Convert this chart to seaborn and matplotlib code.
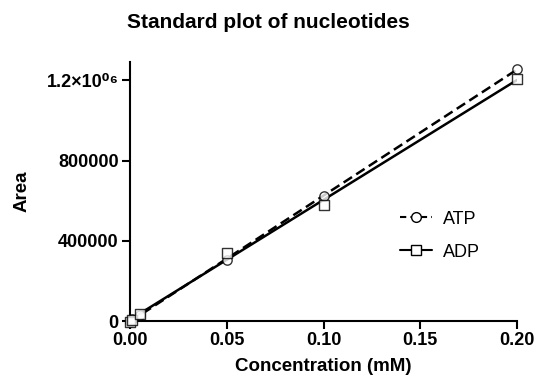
import numpy as np
import pandas as pd
import seaborn as sns
import matplotlib.pyplot as plt
from matplotlib.lines import Line2D

conc = [0.0, 0.001, 0.005, 0.05, 0.1, 0.2]
atp_area = [-4000, 9000, 30000, 305000, 625000, 1255000]
adp_area = [-2000, 8000, 38000, 340000, 580000, 1205000]

sns.set_style('ticks')
plt.rcParams['font.family'] = ['Liberation Sans', 'DejaVu Sans']
plt.rcParams['font.weight'] = 'bold'
plt.rcParams['text.color'] = 'black'
plt.rcParams['axes.labelcolor'] = 'black'
plt.rcParams['xtick.color'] = 'black'
plt.rcParams['ytick.color'] = 'black'

fig = plt.figure(figsize=(5.37, 3.81), dpi=100)
ax = fig.add_axes([0.242, 0.157, 0.721, 0.68])

sns.regplot(x=conc, y=atp_area, ax=ax, ci=None, truncate=True,
            marker='o', color='black',
            scatter_kws=dict(s=45, facecolors='white', edgecolors='black', linewidths=1, clip_on=False, zorder=3),
            line_kws=dict(linestyle=(0, (4, 2)), linewidth=1.8))
sns.regplot(x=conc, y=adp_area, ax=ax, ci=None, truncate=True,
            marker='s', color='black',
            scatter_kws=dict(s=45, facecolors='white', edgecolors='black', linewidths=1, clip_on=False, zorder=3),
            line_kws=dict(linestyle='-', linewidth=1.8))

ax.set_xlim(0, 0.2)
ax.set_ylim(0, 1290000)
ax.set_xticks([0.0, 0.05, 0.10, 0.15, 0.20])
ax.set_xticklabels(['0.00', '0.05', '0.10', '0.15', '0.20'])
ax.set_yticks([0, 400000, 800000, 1200000])
ax.set_yticklabels(['0', '400000', '800000', '1.2×10⁰⁶'])
ax.tick_params(labelsize=13, width=1.5, length=6, color='black', labelcolor='black', pad=2)
for lbl in ax.get_xticklabels() + ax.get_yticklabels():
    lbl.set_fontweight('bold')
for s in ['left', 'bottom']:
    ax.spines[s].set_linewidth(1.5)
    ax.spines[s].set_color('black')
sns.despine(ax=ax)

ax.set_xlabel('Concentration (mM)', fontsize=13.5, fontweight='bold', labelpad=6, color='black')
ax.set_ylabel('Area', fontsize=13.5, fontweight='bold', labelpad=12, color='black')
fig.suptitle('Standard plot of nucleotides', fontsize=15, fontweight='bold', y=0.965, color='black')

handles = [
    Line2D([], [], color='black', linestyle=(0, (3, 2)), marker='o', markerfacecolor='white', markersize=7),
    Line2D([], [], color='black', linestyle='-', marker='s', markerfacecolor='white', markersize=7),
]
leg = ax.legend(handles, ['ATP', 'ADP'], loc='center left', bbox_to_anchor=(0.655, 0.33),
                frameon=False, fontsize=13, handlelength=1.8, labelspacing=0.9, handletextpad=0.6)
for t in leg.get_texts():
    t.set_fontweight('normal')
    t.set_color('black')

fig.savefig('out.png', dpi=100)
